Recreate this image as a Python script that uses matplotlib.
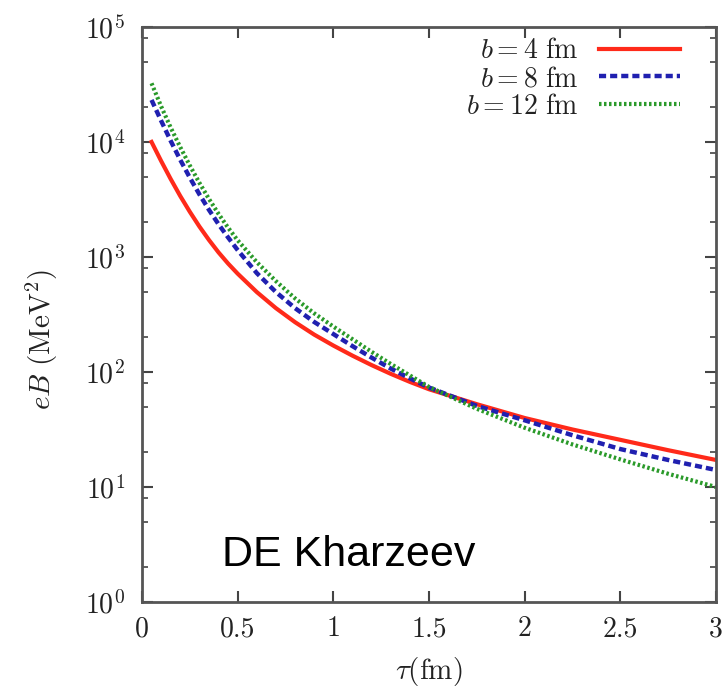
import matplotlib
matplotlib.use("Agg")
import matplotlib.pyplot as plt
from matplotlib.ticker import LogLocator, NullFormatter
import numpy as np

# tau (fm) and log10(eB / MeV^2)
tau = [0.05, 0.1, 0.15, 0.2, 0.25, 0.3, 0.35, 0.4, 0.45, 0.5, 0.6, 0.7, 0.8, 0.9,
       1.0, 1.1, 1.2, 1.3, 1.4, 1.5, 1.75, 2.0, 2.25, 2.5, 2.75, 3.0]
logB_b4 = [4.0, 3.835, 3.678, 3.53, 3.393, 3.265, 3.148, 3.04, 2.943, 2.855, 2.695, 2.555, 2.433, 2.325,
           2.23, 2.142, 2.06, 1.984, 1.914, 1.85, 1.72, 1.60, 1.50, 1.41, 1.32, 1.235]
logB_b8 = [4.365, 4.185, 4.01, 3.845, 3.69, 3.545, 3.41, 3.285, 3.17, 3.06, 2.86, 2.695, 2.555, 2.435,
           2.33, 2.225, 2.125, 2.03, 1.945, 1.865, 1.705, 1.58, 1.45, 1.33, 1.235, 1.148]
logB_b12 = [4.51, 4.31, 4.125, 3.955, 3.795, 3.645, 3.505, 3.375, 3.255, 3.145, 2.955, 2.79, 2.64, 2.51,
            2.395, 2.285, 2.175, 2.07, 1.97, 1.87, 1.68, 1.515, 1.37, 1.24, 1.115, 1.0]
labels = [r'$b = 4\ \mathrm{fm}$', r'$b = 8\ \mathrm{fm}$', r'$b = 12\ \mathrm{fm}$']
xticks = [0, 0.5, 1, 1.5, 2, 2.5, 3]
xticklabels = ['0', '0.5', '1', '1.5', '2', '2.5', '3']

plt.rcParams['font.family'] = 'serif'
plt.rcParams['font.serif'] = ['cmr10']
plt.rcParams['mathtext.fontset'] = 'cm'
plt.rcParams['axes.formatter.use_mathtext'] = True

fig = plt.figure(figsize=(7.28, 6.9), dpi=100)
ax = fig.add_axes([0.195, 0.1275, 0.7885, 0.8335])

ax.plot(tau, 10 ** np.array(logB_b4), color='#ff2a1a', lw=3, label=labels[0])
ax.plot(tau, 10 ** np.array(logB_b8), color='#2020b0', lw=3.2, ls=(0, (1.6, 0.9)), label=labels[1])
ax.plot(tau, 10 ** np.array(logB_b12), color='#2a9a2a', lw=3, ls=(0, (0.6, 0.6)), label=labels[2])

ax.set_yscale('log')
ax.set_xlim(0, 3)
ax.set_ylim(1, 1e5)
ax.set_xticks(xticks)
ax.set_xticklabels(xticklabels)
ax.yaxis.set_major_locator(LogLocator(base=10, numticks=10))
ax.yaxis.set_minor_locator(LogLocator(base=10, subs=[2, 5, 8], numticks=10))
ax.yaxis.set_minor_formatter(NullFormatter())

ax.tick_params(which='both', direction='in', top=True, right=True, colors='#444444',
               labelcolor='#222222', labelsize=20)
ax.tick_params(which='major', length=8, width=1.5)
ax.tick_params(which='minor', length=4, width=1.2)
ax.tick_params(axis='x', pad=10)
ax.tick_params(axis='y', pad=12)
for s in ax.spines.values():
    s.set_color('#555555')
    s.set_linewidth(2)

ax.set_xlabel(r'$\tau(\mathrm{fm})$', fontsize=21, color='#222222', labelpad=9)
ax.set_ylabel(r'$eB\ (\mathrm{MeV}^2)$', fontsize=21, color='#222222')
ax.yaxis.set_label_coords(-0.143, 0.456)

leg = ax.legend(loc='upper right', bbox_to_anchor=(0.9565, 1.0), frameon=False,
                markerfirst=False, fontsize=20, handlelength=2.9, handletextpad=0.75,
                labelspacing=0.05, borderaxespad=0)
for t in leg.get_texts():
    t.set_color('#222222')

ax.text(0.139, 0.082, 'DE Kharzeev', transform=ax.transAxes, fontsize=31,
        family='Liberation Sans', va='center', ha='left', color='black')

fig.savefig('out.png', dpi=100)
